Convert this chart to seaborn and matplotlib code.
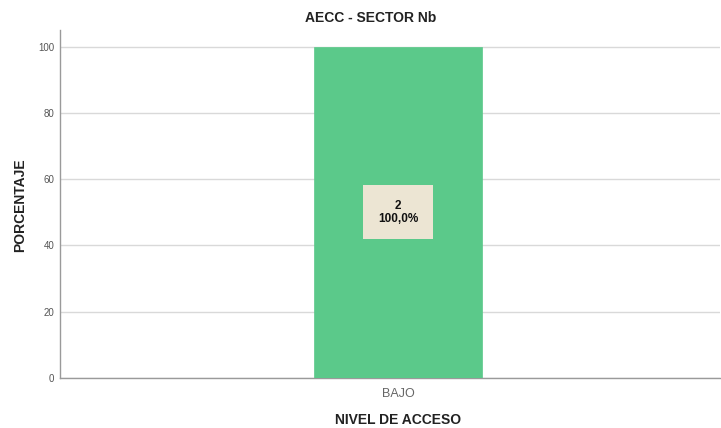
import matplotlib
matplotlib.use("Agg")
import matplotlib.pyplot as plt
import seaborn as sns
import pandas as pd

categories = ["BAJO"]
percentages = [100.0]
counts = [2]
title = "AECC - SECTOR Nb"
x_label = "NIVEL DE ACCESO"
y_label = "PORCENTAJE"
y_ticks = [0, 20, 40, 60, 80, 100]

sns.set_theme(style="white")
plt.rcParams["font.family"] = ["Liberation Sans", "DejaVu Sans"]

df = pd.DataFrame({"nivel": categories, "pct": percentages, "n": counts})

fig = plt.figure(figsize=(7.21, 4.28), dpi=100)
ax = fig.add_axes([0.0832, 0.1168, 0.9154, 0.8132])

sns.barplot(data=df, x="nivel", y="pct", color="#5BC98A", saturation=1,
            width=0.255, ax=ax, zorder=3, edgecolor="#5BC98A", linewidth=0.5)

ax.set_xlim(-0.512, 0.488)
ax.set_ylim(0, 105)
ax.set_yticks(y_ticks)
ax.set_yticklabels([str(t) for t in y_ticks])
ax.yaxis.grid(True, color="#D9D9D9", linewidth=1.0, zorder=0)
ax.set_axisbelow(True)

for s in ["top", "right"]:
    ax.spines[s].set_visible(False)
for s in ["left", "bottom"]:
    ax.spines[s].set_color("#9A9A9A")
    ax.spines[s].set_linewidth(1.0)

ax.tick_params(axis="y", labelsize=7, colors="#555555", length=0, pad=4)
ax.tick_params(axis="x", labelsize=9, colors="#666666", length=0, pad=7)

fig.text(371 / 721, 1 - 18 / 428, title, ha="center", va="center",
         fontsize=10, fontweight="bold", color="#222222")
fig.text(398 / 721, 1 - 420 / 428, x_label, ha="center", va="center",
         fontsize=10, fontweight="bold", color="#222222")
fig.text(20 / 721, 1 - 205 / 428, y_label, ha="center", va="center",
         rotation=90, fontsize=10, fontweight="bold", color="#222222")
ax.set_xlabel("")
ax.set_ylabel("")

for i, (p, n) in enumerate(zip(df["pct"], df["n"])):
    ax.text(i, p / 2, f"{n}\n{p:.1f}%".replace(".", ","), ha="center", va="center",
            fontsize=8.5, fontweight="bold", color="#111111", linespacing=1.1,
            zorder=5,
            bbox=dict(boxstyle="square,pad=1.25", facecolor="#ECE5D3", edgecolor="none"))

fig.savefig("out.png", dpi=100)
